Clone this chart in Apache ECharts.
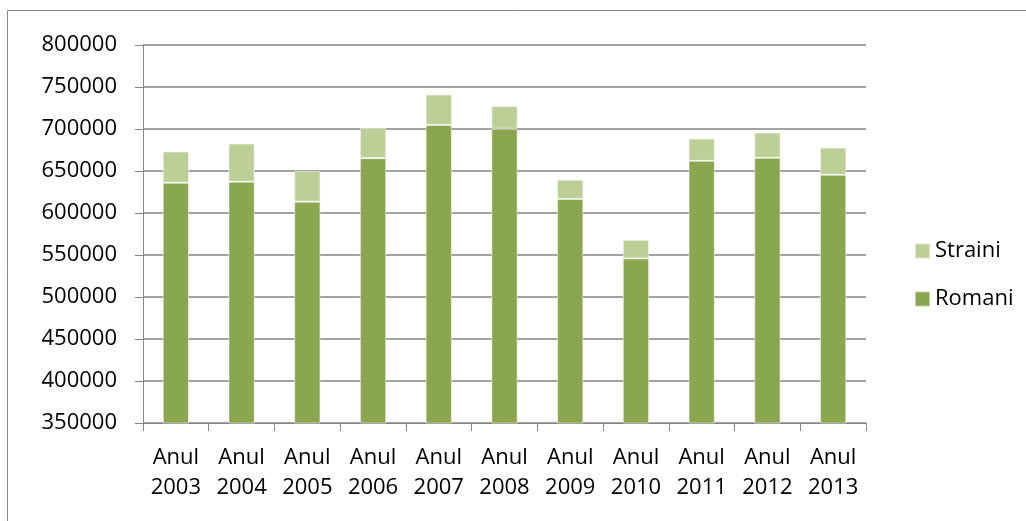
<!DOCTYPE html>
<html>
<head>
<meta charset="utf-8">
<script src="https://cdn.jsdelivr.net/npm/echarts@6/dist/echarts.min.js"></script>
<style>
html,body{margin:0;padding:0;background:#fff;}
#c{width:1026px;height:521px;}
</style>
</head>
<body>
<div id="c"></div>
<script>
const categories = ['Anul\n2003','Anul\n2004','Anul\n2005','Anul\n2006','Anul\n2007','Anul\n2008','Anul\n2009','Anul\n2010','Anul\n2011','Anul\n2012','Anul\n2013'];
const romani  = [636000, 637200, 613500, 665300, 704800, 700400, 616700, 546000, 662100, 665700, 645500];
const straini = [37200, 45500, 36400, 36300, 36300, 26900, 22900, 22100, 26500, 30000, 32400];
const yMin = 350000, yMax = 800000, yStep = 50000;

const FONT = 'Open Sans';
const chart = echarts.init(document.getElementById('c'), null, {renderer:'canvas'});
chart.setOption({
  animation: false,
  backgroundColor: '#fff',
  graphic: [{
    type: 'rect', shape: {x: 7.5, y: 10.5, width: 1040, height: 530},
    style: {fill: 'none', stroke: '#888', lineWidth: 1}, silent: true, z: -1
  }],
  grid: {left: 143, right: 160, top: 45, bottom: 98, containLabel: false},
  legend: {
    orient: 'vertical', left: 909, top: 234,
    itemWidth: 15, itemHeight: 15, itemGap: 24,
    icon: 'rect',
    data: ['Straini', 'Romani'],
    textStyle: {fontFamily: FONT, fontSize: 22, color: '#000', lineHeight: 24, padding: [0,0,0,0]}
  },
  xAxis: {
    type: 'category', data: categories,
    axisLine: {lineStyle: {color: '#868686', width: 1}},
    axisTick: {show: true, length: 8, lineStyle: {color: '#868686'}},
    axisLabel: {fontFamily: FONT, fontSize: 22, color: '#000', lineHeight: 30, margin: 20, interval: 0}
  },
  yAxis: {
    type: 'value', min: yMin, max: yMax, interval: yStep,
    axisLine: {show: true, lineStyle: {color: '#868686', width: 1}},
    axisTick: {show: true, length: 8, lineStyle: {color: '#868686'}},
    splitLine: {lineStyle: {color: '#858585', width: 1.5}},
    axisLabel: {fontFamily: FONT, fontSize: 22, color: '#000', margin: 26,
      formatter: v => String(v)}
  },
  series: [
    {name: 'Romani', type: 'bar', stack: 't', data: romani, barWidth: '40%',
     itemStyle: {color: '#8aa64f', borderColor: 'rgba(255,255,255,0.5)', borderWidth: 1}},
    {name: 'Straini', type: 'bar', stack: 't', data: straini, barWidth: '40%',
     itemStyle: {color: '#bbcf97', borderColor: 'rgba(255,255,255,0.5)', borderWidth: 1}}
  ]
});
</script>
</body>
</html>
